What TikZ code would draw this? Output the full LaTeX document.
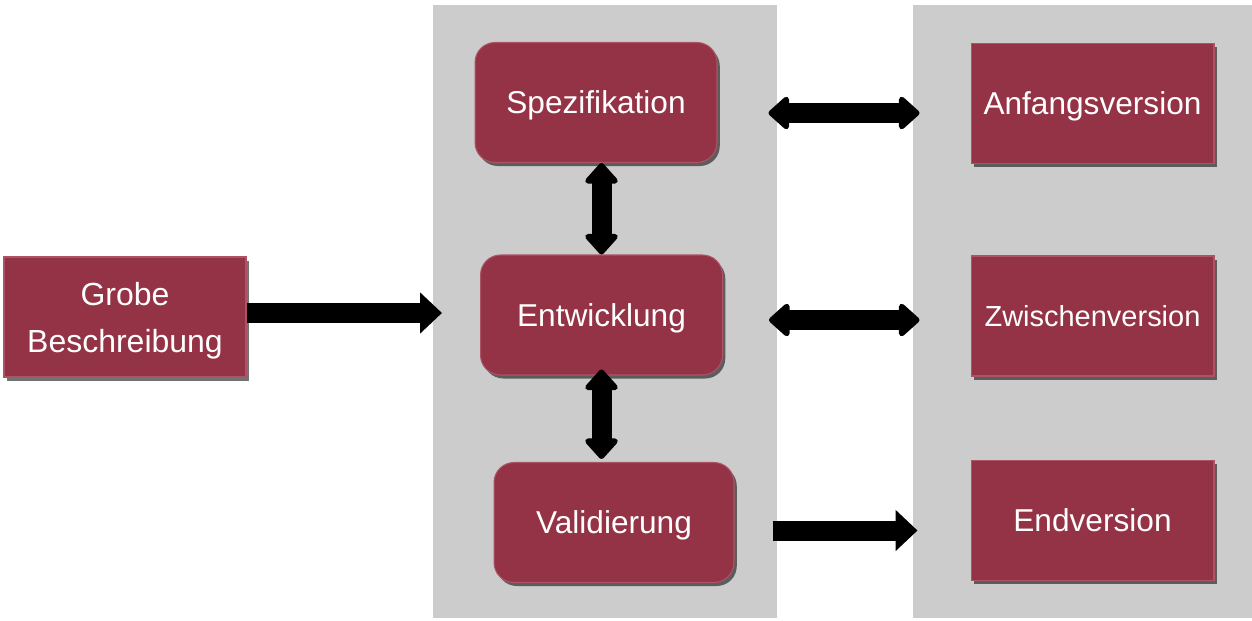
\documentclass[tikz,border=0pt]{standalone}
\usepackage{fontspec}
\setmainfont{Liberation Sans}
\usetikzlibrary{arrows.meta,calc,shadows}
\definecolor{panelgray}{RGB}{204,204,204}
\definecolor{boxred}{RGB}{148,50,70}
\definecolor{boxrim}{RGB}{172,84,102}
\tikzset{
  panel/.style={fill=panelgray, draw=none},
  block/.style={fill=boxred, draw=boxrim, line width=0.6pt, text=white,
    minimum width=4.84cm, minimum height=2.4cm, inner sep=0pt, align=center,
    text depth=0pt,
    font=\fontsize{18}{22}\selectfont,
    drop shadow={shadow xshift=1.6pt, shadow yshift=-2pt, opacity=0.55, fill=black}},
  roundblock/.style={block, rounded corners=0.4cm},
  single/.style={line width=0.4cm, black,
    -{Triangle[width=0.8cm, length=0.44cm]}},
  dbl/.style={line width=0.4cm, black,
    {Triangle[width=0.76cm, length=0.44cm, round]}-{Triangle[width=0.76cm, length=0.44cm, round]}},
}
\begin{document}
\begin{tikzpicture}[x=0.02cm, y=-0.02cm]
  \useasboundingbox (0,0) rectangle (1252,620);
  \fill[white] (0,0) rectangle (1252,620);

  % background columns
  \path[panel] (433,5) rectangle (777,618);
  \path[panel] (913,5) rectangle (1252,618);

  % process blocks
  \node[block, font=\fontsize{18.2}{26.7}\selectfont] (grobe) at (125,317) {Grobe\\Beschreibung};
  \node[roundblock] (spez)  at (596,102.5) {Spezifikation};
  \node[roundblock] (entw)  at (601.5,315) {Entwicklung};
  \node[roundblock, minimum width=4.8cm] (valid) at (614,522.5) {Validierung};

  % version blocks
  \node[block, minimum width=4.86cm] (anf)  at (1092.5,103.5) {Anfangsversion};
  \node[block, minimum width=4.86cm, font=\fontsize{16.5}{20}\selectfont] (zw) at (1092.5,316) {Zwischenversion};
  \node[block, minimum width=4.86cm] (endv) at (1092.5,520.5) {Endversion};

  % connectors
  \draw[single] ($(grobe.east)+(0,-4)$) -- ($(entw.west)+(-38,-2)$);
  \draw[dbl] (spez.south -| entw.north) -- (entw.north);
  \draw[dbl] ($(entw.south)+(0,-6)$) -- ($(entw.south |- valid.north)+(0,-3)$);
  \draw[dbl] ($(spez.east)+(51,10.5)$) -- ($(anf.west)+(-51,9.5)$);
  \draw[dbl] ($(entw.east)+(46,5)$) -- ($(zw.west)+(-51,4)$);
  \draw[single] ($(valid.east)+(38,8)$) -- ($(endv.west)+(-53,10)$);
\end{tikzpicture}
\end{document}
